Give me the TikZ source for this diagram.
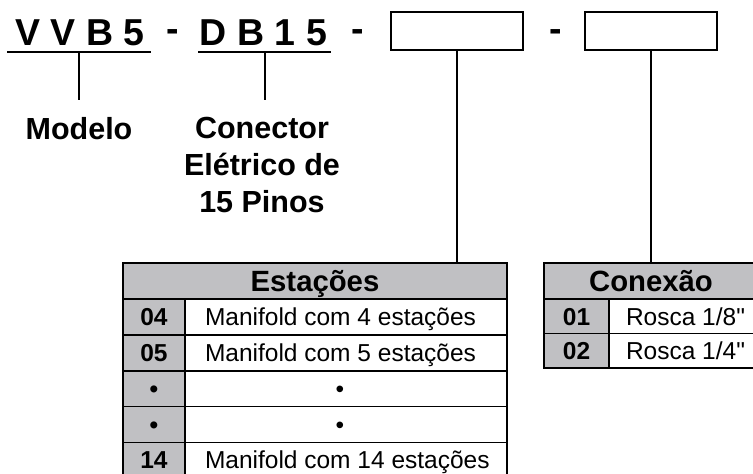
\documentclass[tikz,border=0pt]{standalone}
\usepackage{fontspec}
\setmainfont{Liberation Sans}
\definecolor{cellgray}{RGB}{192,192,195}
\begin{document}
\begin{tikzpicture}[x=1pt,y=-1pt,
  code/.style={font=\fontsize{37.5}{40}\selectfont\bfseries, inner sep=0, anchor=base},
  lbl/.style={font=\fontsize{30.5}{37}\selectfont\bfseries, inner sep=0, anchor=north, align=center},
  optbox/.style={draw, line width=1.8pt, minimum width=132pt, minimum height=38pt, inner sep=0},
  link/.style={line width=1.4pt},
  uline/.style={line width=1.7pt},
  hdr/.style={draw, line width=1.6pt, fill=cellgray, font=\fontsize{29.3}{32}\selectfont\bfseries, text height=21pt, text depth=0pt, inner sep=0, minimum height=36pt},
  num/.style={draw, line width=1.6pt, fill=cellgray, font=\fontsize{24.5}{28}\selectfont\bfseries, text height=17.5pt, text depth=0pt, inner sep=0},
  desc/.style={draw, line width=1.6pt, fill=white, font=\fontsize{24.5}{28}\selectfont, text height=17.5pt, text depth=0pt, inner ysep=0},
]
\useasboundingbox (0,0) rectangle (753,474);

% code line
\node[code] (vvb) at (80,45) {V V B 5};
\node[code] (dash1) at (172.5,41) {-};
\node[code] (db15) at (263.5,45) {D B 1 5};
\node[code] (dash2) at (357.5,41) {-};
\node[optbox] (opt1) at (457,31) {};
\node[code] (dash3) at (555.5,41) {-};
\node[optbox] (opt2) at (651,31) {};

\coordinate (vvbL) at (7,52);
\coordinate (vvbR) at (151,52);
\coordinate (vvbT) at (79,52);
\coordinate (dbL) at (198,52);
\coordinate (dbR) at (331,52);
\coordinate (dbT) at (265,52);
\draw[uline] (vvbL) -- (vvbR);
\draw[uline] (dbL) -- (dbR);

% labels
\node[lbl] (modelo) at (79,117) {Modelo};
\node[lbl] (conector) at (262,117) {Conector\\Elétrico de\\15 Pinos};
\draw[link, shorten >=17pt] (vvbT) -- (modelo.north);
\draw[link, shorten >=17pt] (dbT) -- (dbT |- conector.north);

% Estacoes table
\node[hdr, minimum width=384pt] (esth) at (315,281) {Estações};
\foreach \n/\y/\a/\b in {1/317/04/{Manifold com 4 estações},
                         2/352.8/05/{Manifold com 5 estações},
                         3/388.6/•/{\hspace*{130.7pt}•},
                         4/424.4/•/{\hspace*{130.7pt}•},
                         5/460.2/14/{Manifold com 14 estações}}{
  \node[num, minimum width=62pt, minimum height=35.8pt] (en\n) at (154,\y) {\a};
  \node[desc, inner xsep=20pt, minimum height=35.8pt] (ed\n) at (346,\y) {\makebox[282pt][l]{\b}};
}

% Conexao table
\node[hdr, minimum width=214pt] (conh) at (651,281) {Conexão};
\foreach \n/\y/\a/\b in {1/316.3/01/{Rosca 1/8\textquotedbl},
                         2/350.9/02/{Rosca 1/4\textquotedbl}}{
  \node[num, minimum width=65pt, minimum height=34.6pt] (cn\n) at (576.5,\y) {\a};
  \node[desc, inner xsep=17pt, minimum height=34.6pt] (cd\n) at (683.5,\y) {\makebox[115pt][l]{\b}};
}

\draw[link] (opt1.south) -- (opt1.south |- esth.north);
\draw[link] (opt2.south) -- (opt2.south |- conh.north);
\end{tikzpicture}
\end{document}
